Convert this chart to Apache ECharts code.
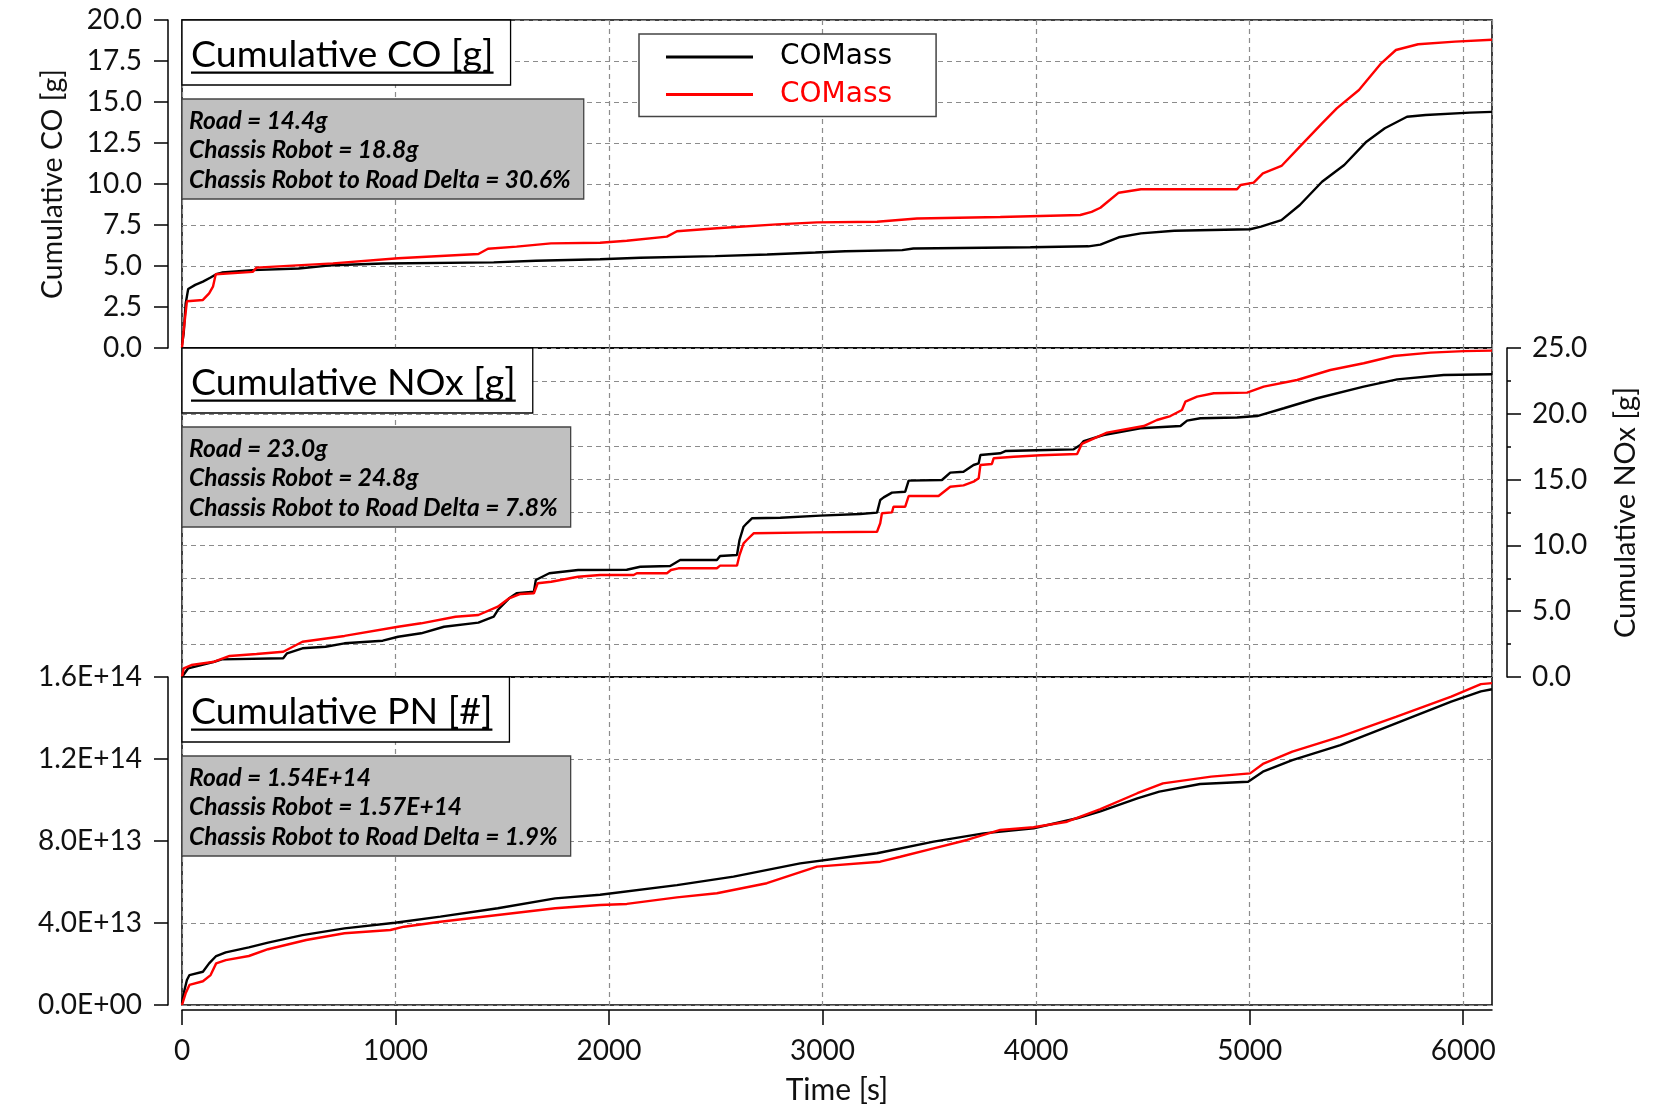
<!DOCTYPE html>
<html>
<head>
<meta charset="utf-8">
<script src="https://cdn.jsdelivr.net/npm/echarts@6/dist/echarts.min.js"></script>
<style>
  html, body { margin: 0; padding: 0; background: #fff; }
  #chart { width: 1679px; height: 1106px; }
</style>
</head>
<body>
<div id="chart"></div>
<script>
// Time axis
const timeMax = 6135;
const timeTicks = [0, 1000, 2000, 3000, 4000, 5000, 6000];

// Cumulative CO [g] : [time s, grams]
const coRoad = [[0,0.2],[8,0.9],[17,2.7],[29,3.6],[62,3.85],[98,4.05],[134,4.3],[160,4.5],[187,4.6],[331,4.75],[546,4.85],[707,5.05],[940,5.15],[1460,5.22],[1657,5.32],[1958,5.41],[2146,5.5],[2497,5.6],[2740,5.7],[2966,5.82],[3106,5.9],[3373,5.97],[3425,6.07],[3973,6.14],[4245,6.2],[4301,6.3],[4387,6.75],[4491,6.99],[4647,7.15],[5002,7.24],[5053,7.4],[5149,7.8],[5235,8.72],[5339,10.14],[5443,11.16],[5547,12.58],[5633,13.4],[5737,14.1],[5824,14.21],[6031,14.35],[6135,14.4]];
const coRobot = [[0,0],[8,1.1],[23,2.85],[98,2.93],[127,3.33],[145,3.74],[158,4.5],[331,4.64],[349,4.9],[707,5.16],[1012,5.47],[1388,5.73],[1433,6.05],[1567,6.18],[1728,6.38],[1958,6.42],[2083,6.54],[2271,6.79],[2318,7.12],[2505,7.3],[2786,7.54],[2974,7.66],[3255,7.7],[3442,7.9],[3832,7.99],[4207,8.11],[4260,8.3],[4301,8.55],[4335,8.92],[4387,9.47],[4491,9.68],[4941,9.68],[4958,9.94],[5019,10.08],[5062,10.65],[5149,11.1],[5235,12.28],[5339,13.7],[5408,14.61],[5512,15.73],[5616,17.36],[5685,18.17],[5789,18.52],[5962,18.68],[6135,18.8]];

// Cumulative NOx [g]
const noxRoad = [[0,0],[29,0.66],[151,1.16],[187,1.34],[474,1.42],[492,1.8],[564,2.18],[672,2.3],[761,2.56],[940,2.76],[1012,3.06],[1120,3.32],[1227,3.82],[1388,4.13],[1460,4.58],[1479,5.09],[1532,5.98],[1567,6.36],[1648,6.48],[1657,7.37],[1720,7.88],[1855,8.13],[2083,8.15],[2146,8.38],[2286,8.44],[2333,8.89],[2505,8.89],[2520,9.19],[2599,9.27],[2611,10.41],[2630,11.42],[2645,11.68],[2669,12.06],[2802,12.1],[2989,12.26],[3176,12.39],[3255,12.49],[3270,13.45],[3286,13.65],[3325,14.01],[3387,14.08],[3403,14.92],[3559,14.97],[3598,15.53],[3660,15.6],[3707,16.11],[3731,16.24],[3739,16.87],[3832,17.0],[3856,17.17],[4051,17.25],[4176,17.3],[4207,17.63],[4223,17.93],[4316,18.39],[4488,18.9],[4676,19.07],[4707,19.48],[4769,19.66],[4941,19.72],[5035,19.83],[5160,20.42],[5316,21.18],[5534,22.06],[5691,22.62],[5909,22.95],[6135,23.0]];
const noxRobot = [[0,0],[8,0.66],[44,0.91],[151,1.16],[223,1.6],[349,1.75],[474,1.92],[564,2.68],[761,3.12],[1012,3.82],[1120,4.08],[1281,4.58],[1388,4.71],[1479,5.34],[1532,5.98],[1585,6.31],[1648,6.36],[1666,7.12],[1729,7.24],[1855,7.62],[1958,7.75],[2115,7.75],[2130,7.88],[2271,7.88],[2290,8.13],[2325,8.26],[2505,8.26],[2520,8.46],[2599,8.46],[2611,9.27],[2630,10.16],[2645,10.41],[2677,10.92],[2958,10.99],[3255,11.04],[3270,11.68],[3278,12.44],[3325,12.51],[3332,12.94],[3387,12.94],[3403,13.75],[3543,13.75],[3598,14.46],[3660,14.56],[3707,14.84],[3731,15.1],[3739,16.11],[3793,16.19],[3801,16.62],[3895,16.74],[4020,16.85],[4192,16.95],[4214,17.71],[4332,18.57],[4504,19.07],[4566,19.53],[4629,19.83],[4683,20.29],[4699,20.92],[4754,21.3],[4832,21.56],[4988,21.61],[5066,22.06],[5222,22.57],[5378,23.33],[5534,23.84],[5675,24.39],[5847,24.65],[6003,24.76],[6135,24.8]];

// Cumulative PN [#]
const pnRoad = [[0,0.08e13],[8,0.57e13],[23,1.22e13],[35,1.46e13],[98,1.62e13],[127,2.03e13],[160,2.39e13],[205,2.57e13],[313,2.81e13],[403,3.04e13],[564,3.41e13],[761,3.74e13],[998,4.01e13],[1210,4.31e13],[1479,4.72e13],[1748,5.2e13],[1958,5.38e13],[2318,5.85e13],[2583,6.26e13],[2895,6.91e13],[3130,7.23e13],[3255,7.4e13],[3520,7.97e13],[3754,8.37e13],[3988,8.62e13],[4192,9.11e13],[4301,9.45e13],[4474,10.08e13],[4577,10.41e13],[4768,10.78e13],[4993,10.89e13],[5062,11.38e13],[5200,11.95e13],[5425,12.68e13],[5685,13.74e13],[5944,14.8e13],[6083,15.3e13],[6135,15.4e13]];
const pnRobot = [[0,0],[17,0.57e13],[35,0.98e13],[98,1.16e13],[134,1.46e13],[160,2.03e13],[205,2.19e13],[313,2.39e13],[403,2.72e13],[582,3.17e13],[761,3.5e13],[976,3.66e13],[1040,3.82e13],[1210,4.06e13],[1479,4.39e13],[1748,4.72e13],[1958,4.88e13],[2083,4.93e13],[2318,5.25e13],[2505,5.45e13],[2739,5.94e13],[2974,6.75e13],[3270,6.99e13],[3364,7.23e13],[3520,7.64e13],[3676,8.05e13],[3832,8.54e13],[3988,8.67e13],[4145,8.94e13],[4301,9.55e13],[4474,10.33e13],[4594,10.81e13],[4820,11.14e13],[5002,11.3e13],[5062,11.76e13],[5200,12.36e13],[5425,13.09e13],[5685,14.06e13],[5944,15.04e13],[6083,15.65e13],[6135,15.7e13]];

const FONT = 'Lato';
const GRID_LEFT = 182, GRID_W = 1310;
const gridTops = [20, 348, 677];
const gridHeights = [328, 329, 328];

function sci(v, digits) {
  if (v === 0) return (0).toFixed(digits) + 'E+00';
  let e = Math.floor(Math.log10(Math.abs(v)) + 1e-9);
  let m = v / Math.pow(10, e);
  if (Math.abs(Number(m.toFixed(digits))) >= 10) { e += 1; m = v / Math.pow(10, e); }
  return m.toFixed(digits) + 'E' + (e < 0 ? '-' : '+') + String(Math.abs(e)).padStart(2, '0');
}

const last = arr => arr[arr.length - 1][1];

const panels = [
  { title: 'Cumulative CO [g]', road: coRoad, robot: coRobot, fmt: v => v.toFixed(1) + 'g' },
  { title: 'Cumulative NOx [g]', road: noxRoad, robot: noxRobot, fmt: v => v.toFixed(1) + 'g' },
  { title: 'Cumulative PN [#]', road: pnRoad, robot: pnRobot, fmt: v => sci(v, 2) }
];

const measureCtx = document.createElement('canvas').getContext('2d');
function textWidth(str, font) { measureCtx.font = font; return measureCtx.measureText(str).width; }

// Title and summary boxes in the top-left corner of each panel
const graphics = [];
panels.forEach((p, i) => {
  const top = gridTops[i];
  const titleFont = 'normal normal 37.5px ' + FONT;
  const tw = textWidth(p.title, titleFont);
  graphics.push({ type: 'rect', z: 50, shape: { x: GRID_LEFT, y: top, width: tw + 26, height: 65 },
    style: { fill: '#fff', stroke: '#000', lineWidth: 1.3 } });
  graphics.push({ type: 'text', z: 51, style: { x: GRID_LEFT + 9, y: top + 35, text: p.title, font: titleFont, fill: '#000', verticalAlign: 'middle', align: 'left' } });
  graphics.push({ type: 'rect', z: 51, shape: { x: GRID_LEFT + 9, y: top + 51.5, width: tw, height: 2.2 }, style: { fill: '#000' } });

  const r = last(p.road), c = last(p.robot);
  const lines = [
    'Road = ' + p.fmt(r),
    'Chassis Robot = ' + p.fmt(c),
    'Chassis Robot to Road Delta = ' + ((c - r) / r * 100).toFixed(1) + '%'
  ];
  const statFont = 'italic bold 24.5px ' + FONT;
  const lw = Math.max.apply(null, lines.map(s => textWidth(s, statFont)));
  const sTop = top + 79;
  graphics.push({ type: 'rect', z: 50, shape: { x: GRID_LEFT, y: sTop, width: lw + 20, height: 100 },
    style: { fill: '#c0c0c0', stroke: '#444', lineWidth: 1.3 } });
  lines.forEach((s, k) => {
    graphics.push({ type: 'text', z: 51, style: { x: GRID_LEFT + 7, y: sTop + 22 + k * 29.5, text: s, font: statFont, fill: '#000', verticalAlign: 'middle', align: 'left' } });
  });
});

const splitStyle = { show: true, lineStyle: { color: '#8c8c8c', width: 1.2, type: [5, 4] } };
const blackLine = { show: true, onZero: false, lineStyle: { color: '#000', width: 1.5 } };
const tickLabel = { color: '#111', fontFamily: FONT, fontSize: 28 };
const nameStyle = { color: '#111', fontFamily: FONT, fontSize: 28.5 };

const xAxes = [0, 1, 2].map(i => {
  const bottom = i === 2;
  return {
    type: 'value', gridIndex: i, min: 0, max: timeMax, interval: 1000,
    offset: bottom ? 5 : 0,
    axisLine: bottom ? blackLine : { show: false },
    axisTick: bottom ? { show: true, length: 15, customValues: timeTicks, lineStyle: { color: '#000', width: 1.5 } } : { show: false },
    axisLabel: bottom ? Object.assign({ margin: 27, customValues: timeTicks, formatter: v => String(v) }, tickLabel) : { show: false },
    splitLine: splitStyle,
    name: bottom ? 'Time [s]' : '',
    nameLocation: 'middle', nameGap: 65, nameTextStyle: Object.assign({}, nameStyle, { fontSize: 30 })
  };
});

const yAxes = [
  {
    type: 'value', gridIndex: 0, position: 'left', offset: 14, min: 0, max: 20, interval: 2.5,
    axisLine: blackLine,
    axisTick: { show: true, length: 14, lineStyle: { color: '#000', width: 1.5 } },
    axisLabel: Object.assign({ margin: 26, formatter: v => v.toFixed(1) }, tickLabel),
    splitLine: splitStyle,
    name: 'Cumulative CO [g]', nameLocation: 'middle', nameRotate: 90, nameGap: 101, nameTextStyle: nameStyle
  },
  {
    type: 'value', gridIndex: 1, position: 'right', offset: 15, min: 0, max: 25, interval: 5,
    axisLine: blackLine,
    axisTick: { show: true, length: 14, lineStyle: { color: '#000', width: 1.5 } },
    minorTick: { show: true, splitNumber: 2, length: 4, lineStyle: { color: '#000', width: 1.5 } },
    axisLabel: Object.assign({ margin: 25, formatter: v => v.toFixed(1) }, tickLabel),
    splitLine: splitStyle,
    minorSplitLine: splitStyle,
    name: 'Cumulative NOx [g]', nameLocation: 'middle', nameRotate: 90, nameGap: 104, nameTextStyle: Object.assign({}, nameStyle, { fontSize: 29 })
  },
  {
    type: 'value', gridIndex: 2, position: 'left', offset: 14, min: 0, max: 1.6e14, interval: 4e13,
    axisLine: blackLine,
    axisTick: { show: true, length: 14, lineStyle: { color: '#000', width: 1.5 } },
    axisLabel: Object.assign({ margin: 26, formatter: v => sci(v, 1) }, tickLabel),
    splitLine: splitStyle
  }
];

function lineSeries(name, color, data, idx) {
  return {
    name: name, type: 'line', xAxisIndex: idx, yAxisIndex: idx, data: data,
    symbol: 'none', showSymbol: false, silent: true, animation: false, z: 3,
    lineStyle: { color: color, width: 2.4 }, itemStyle: { color: color }
  };
}

const series = [];
panels.forEach((p, i) => {
  series.push(lineSeries('Road', '#000000', p.road, i));
  series.push(lineSeries('Chassis Robot', '#ff0000', p.robot, i));
});

const chart = echarts.init(document.getElementById('chart'), null, { renderer: 'canvas' });
chart.setOption({
  backgroundColor: '#fff',
  animation: false,
  grid: gridTops.map((t, i) => ({
    left: GRID_LEFT, top: t, width: GRID_W, height: gridHeights[i],
    show: true, borderColor: '#000', borderWidth: 1.5, backgroundColor: 'transparent',
    containLabel: false, outerBoundsMode: 'none'
  })),
  xAxis: xAxes,
  yAxis: yAxes,
  legend: {
    left: 639, top: 34, orient: 'vertical',
    padding: [9, 44, 8, 27], itemGap: 9.5, itemWidth: 87, itemHeight: 3, icon: 'rect',
    backgroundColor: '#fff', borderColor: '#444', borderWidth: 1.5,
    selectedMode: false,
    data: [
      { name: 'Road', textStyle: { color: '#000' } },
      { name: 'Chassis Robot', textStyle: { color: '#ff0000' } }
    ],
    formatter: () => 'COMass',
    textStyle: { fontFamily: 'DejaVu Sans', fontSize: 28, padding: [0, 0, 0, 22] }
  },
  graphic: graphics,
  series: series
});
</script>
</body>
</html>
